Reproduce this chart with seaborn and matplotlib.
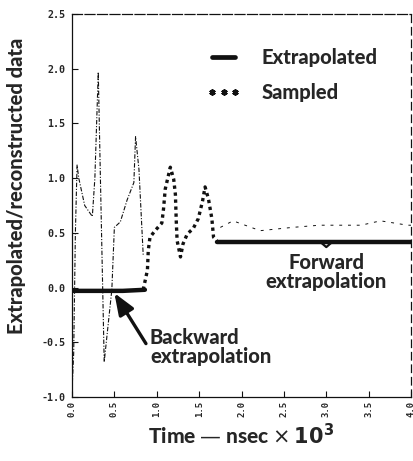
import numpy as np
import pandas as pd
import matplotlib
matplotlib.use("Agg")
import matplotlib.pyplot as plt
from matplotlib.lines import Line2D
import seaborn as sns

# Time axis in nsec x 10^3
x_ticks = [0.0, 0.5, 1.0, 1.5, 2.0, 2.5, 3.0, 3.5, 4.0]
y_ticks = [-1.0, -0.5, 0.0, 0.5, 1.0, 1.5, 2.0, 2.5]

# Backward extrapolation (before the sampled window)
back_t = [0.0, 0.30, 0.60, 0.86]
back_v = [-0.03, -0.03, -0.03, -0.02]

# Sampled window
samp_t = [0.84, 0.89, 0.90, 0.92, 0.98, 1.06, 1.08, 1.10, 1.16, 1.20, 1.22,
          1.23, 1.24, 1.28, 1.31, 1.36, 1.43, 1.49, 1.54, 1.57, 1.61, 1.65,
          1.67, 1.71]
samp_v = [-0.02, 0.16, 0.34, 0.46, 0.52, 0.59, 0.72, 0.90, 1.10, 0.99, 0.85,
          0.61, 0.43, 0.28, 0.40, 0.49, 0.54, 0.63, 0.79, 0.92, 0.81, 0.63,
          0.46, 0.43]

# Forward extrapolation (after the sampled window)
fwd_t = [1.71, 2.2, 2.7, 3.2, 3.7, 4.0]
fwd_v = [0.42, 0.42, 0.42, 0.42, 0.42, 0.42]

# Reconstructed signal
rec_t = [0.0, 0.02, 0.04, 0.06, 0.08, 0.15, 0.24, 0.27, 0.31, 0.33, 0.38,
         0.47, 0.50, 0.57, 0.65, 0.73, 0.75, 0.79, 0.84]
rec_v = [-0.95, -0.60, 0.50, 1.12, 1.00, 0.75, 0.65, 1.00, 1.97, 1.20, -0.68,
         -0.02, 0.55, 0.60, 0.80, 0.96, 1.38, 1.08, 0.30]
tail_t = [1.75, 1.90, 2.22, 2.60, 2.92, 3.41, 3.64, 3.96, 4.0]
tail_v = [0.55, 0.61, 0.52, 0.55, 0.57, 0.57, 0.61, 0.57, 0.57]

sns.set_style("white")
plt.rcParams["font.family"] = ["Lato", "DejaVu Sans"]

fig = plt.figure(figsize=(4.13, 4.61), dpi=100)
ax = fig.add_axes([0.1743, 0.1388, 0.821, 0.8308])

ink = "#111111"
heavy = "black"

rec = pd.DataFrame({"t": rec_t, "v": rec_v})
tail = pd.DataFrame({"t": tail_t, "v": tail_v})
sns.lineplot(data=rec, x="t", y="v", ax=ax, color=ink, lw=0.8,
             linestyle=(0, (4, 1.5, 1, 1.5)), sort=False)
sns.lineplot(data=tail, x="t", y="v", ax=ax, color=ink, lw=0.7,
             linestyle=(0, (3, 6)), sort=False)

back = pd.DataFrame({"t": back_t, "v": back_v})
fwd = pd.DataFrame({"t": fwd_t, "v": fwd_v})
samp = pd.DataFrame({"t": samp_t, "v": samp_v})
sns.lineplot(data=back, x="t", y="v", ax=ax, color=ink, lw=3.2, sort=False)
sns.lineplot(data=fwd, x="t", y="v", ax=ax, color=ink, lw=3.2, sort=False)
sns.lineplot(data=samp, x="t", y="v", ax=ax, color=ink, lw=2.4,
             linestyle=(0, (1, 1.1)), sort=False)

# brace tip under the forward extrapolation
brace_x = 3.0
ax.plot([brace_x - 0.06, brace_x, brace_x + 0.06],
        [fwd_v[0] - 0.01, fwd_v[0] - 0.05, fwd_v[0] - 0.01],
        color=ink, lw=1.6, solid_capstyle="round")

ax.set_xlim(0, 4.0)
ax.set_ylim(-1.0, 2.5)
ax.set_xticks(x_ticks)
ax.set_yticks(y_ticks)
ax.set_xticklabels([f"{t:.1f}" for t in x_ticks], rotation=90,
                   family="DejaVu Sans Mono", fontsize=6.5, fontweight="bold")
ax.set_yticklabels([f"{t:.1f}" for t in y_ticks],
                   family="DejaVu Sans Mono", fontsize=7.2, fontweight="bold")
ax.tick_params(axis="both", direction="in", length=4, width=0.8, color=ink,
               left=True, bottom=True)
ax.tick_params(axis="y", pad=5)
ax.tick_params(axis="x", pad=3)
for s in ax.spines.values():
    s.set_visible(True)
    s.set_color(ink)
    s.set_linewidth(0.9)
ax.spines["top"].set_linestyle((0, (8, 2)))
ax.spines["right"].set_linestyle((0, (6, 4)))

ax.set_xlabel("Time — nsec $\\times\\,\\mathbf{10^3}$", fontsize=15,
              fontweight=heavy)
ax.xaxis.set_label_coords(0.5, -0.066)
ax.set_ylabel("Extrapolated/reconstructed data", fontsize=14.5,
              fontweight=heavy)
ax.yaxis.set_label_coords(-0.135, 0.55)

handles = [Line2D([], [], color=ink, lw=3.4),
           Line2D([], [], color=ink, ls="none", marker=(6, 2, 0),
                  markersize=4.5, markeredgewidth=1.3)]
leg = ax.legend(handles, ["Extrapolated", "Sampled"], loc="upper left",
                bbox_to_anchor=(0.395, 0.91), frameon=False, numpoints=3,
                handlelength=1.75, handletextpad=1.0, labelspacing=0.75,
                borderpad=0, borderaxespad=0,
                prop={"family": ["Lato", "DejaVu Sans"], "weight": heavy,
                      "size": 14.5})

ax.text(3.0, 0.14, "Forward\nextrapolation", ha="center", va="center",
        fontsize=14.5, fontweight=heavy, linespacing=1.0)
ax.annotate("Backward\nextrapolation", xy=(0.50, -0.05), xytext=(0.92, -0.54),
            ha="left", va="center", fontsize=14.5, fontweight=heavy,
            linespacing=1.0,
            arrowprops=dict(arrowstyle="-|>,head_length=0.9,head_width=0.35",
                            color=ink, lw=2.4, shrinkA=1, shrinkB=0,
                            connectionstyle="angle,angleA=0,angleB=-58,rad=0"))

fig.savefig("out.png", dpi=100)
